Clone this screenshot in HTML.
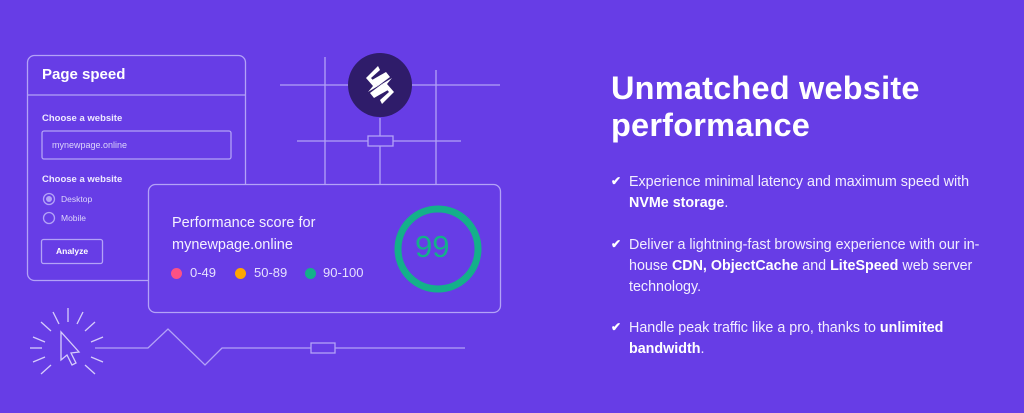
<!DOCTYPE html>
<html><head><meta charset="utf-8"><style>
html,body{margin:0;padding:0;width:1024px;height:413px;overflow:hidden;background:#673de6;font-family:"Liberation Sans",sans-serif;}
svg{position:absolute;left:0;top:0}
.t{position:absolute;color:#fff}
h1{position:absolute;left:611px;top:70px;margin:0;font-size:32.5px;line-height:37px;font-weight:bold;color:#fff;letter-spacing:0.2px}
.b{position:absolute;left:629px;width:380px;font-size:14.3px;line-height:21px;color:#f2eeff}
.b b{color:#fff}
.ck{position:absolute;left:611px;font-size:12px;color:#fff;font-weight:bold}
.dot{position:absolute;width:11px;height:11px;border-radius:50%}
</style></head><body>
<svg width="1024" height="413" viewBox="0 0 1024 413" fill="none" stroke="#b3a2f7" stroke-width="1.3">
<line x1="280" y1="85" x2="500" y2="85"/>
<line x1="297" y1="141" x2="461" y2="141"/>
<line x1="325" y1="57" x2="325" y2="184"/>
<line x1="380" y1="118" x2="380" y2="184"/>
<line x1="436" y1="70" x2="436" y2="184"/>
<rect x="368" y="136" width="25" height="10" fill="#673de6"/>
<circle cx="380" cy="85" r="32" fill="#2f1c6a" stroke="none"/>
<g fill="#fff" stroke="none">
<path d="M378 66 L366 78 L373 86 L368 92 L378 86 L371 78 L380 70 Z"/>
<path d="M382 104 L394 92 L387 84 L392 78 L382 84 L389 92 L380 100 Z"/>
<path d="M372 80 L386 72 L390 77 L378 86 Z"/>
<path d="M388 90 L374 98 L370 93 L382 84 Z"/>
</g>
<rect x="27.5" y="55.5" width="218" height="225" rx="7" fill="#673de6"/>
<line x1="28" y1="95" x2="245" y2="95"/>
<rect x="42" y="131" width="189" height="28" rx="2"/>
<circle cx="49" cy="199" r="5.5"/><circle cx="49" cy="199" r="3" fill="#b3a2f7" stroke="none"/>
<circle cx="49" cy="218" r="5.5"/>
<rect x="41.5" y="239.5" width="61" height="24" rx="2"/>
<rect x="148.5" y="184.5" width="352" height="128" rx="7" fill="#673de6"/>
<circle cx="438" cy="249" r="40" stroke="#14b08a" stroke-width="7"/>
<polyline points="95,348 148,348 168,329 205,365 222,348 465,348"/>
<rect x="311" y="343" width="24" height="10" fill="#673de6"/>
<g stroke="#d6ccfb">
<line x1="68" y1="308" x2="68" y2="322"/><line x1="53" y1="312" x2="59" y2="324"/><line x1="83" y1="312" x2="77" y2="324"/>
<line x1="41" y1="322" x2="51" y2="331"/><line x1="95" y1="322" x2="85" y2="331"/>
<line x1="33" y1="337" x2="45" y2="342"/><line x1="103" y1="337" x2="91" y2="342"/>
<line x1="30" y1="348" x2="42" y2="348"/>
<line x1="33" y1="362" x2="45" y2="357"/><line x1="103" y1="362" x2="91" y2="357"/>
<line x1="41" y1="374" x2="51" y2="365"/><line x1="95" y1="374" x2="85" y2="365"/>
<path d="M61 332 L61 360 L67 355 L72 365 L76 363 L71 353 L79 352 Z" fill="#673de6"/>
</g>
</svg>
<div class="t" style="left:42px;top:66px;font-size:15px;font-weight:bold">Page speed</div>
<div class="t" style="left:42px;top:113px;font-size:9.5px;font-weight:bold;color:#eeeaff">Choose a website</div>
<div class="t" style="left:52px;top:140px;font-size:9px;color:#ddd6fb">mynewpage.online</div>
<div class="t" style="left:42px;top:174px;font-size:9.5px;font-weight:bold;color:#eeeaff">Choose a website</div>
<div class="t" style="left:61px;top:194px;font-size:8.5px;color:#ddd6fb">Desktop</div>
<div class="t" style="left:61px;top:213px;font-size:8.5px;color:#ddd6fb">Mobile</div>
<div class="t" style="left:56px;top:246px;font-size:8.5px;font-weight:bold">Analyze</div>
<div class="t" style="left:172px;top:212px;font-size:14.5px;line-height:22px;color:#f4f0ff">Performance score for<br>mynewpage.online</div>
<div class="dot" style="left:171px;top:268px;background:#fc5185"></div>
<div class="t" style="left:190px;top:265px;font-size:13px;color:#e6e0ff">0-49</div>
<div class="dot" style="left:235px;top:268px;background:#ffa502"></div>
<div class="t" style="left:254px;top:265px;font-size:13px;color:#e6e0ff">50-89</div>
<div class="dot" style="left:305px;top:268px;background:#14b08a"></div>
<div class="t" style="left:323px;top:265px;font-size:13px;color:#e6e0ff">90-100</div>
<div class="t" style="left:415px;top:229px;font-size:31px;color:#14b08a">99</div>
<h1>Unmatched website<br>performance</h1>
<div class="ck" style="top:174px">✔</div>
<div class="b" style="top:172px">Experience minimal latency and maximum speed with <b>NVMe storage</b>.</div>
<div class="ck" style="top:237px">✔</div>
<div class="b" style="top:235px">Deliver a lightning-fast browsing experience with our in-house <b>CDN, ObjectCache</b> and <b>LiteSpeed</b> web server technology.</div>
<div class="ck" style="top:320px">✔</div>
<div class="b" style="top:318px">Handle peak traffic like a pro, thanks to <b>unlimited bandwidth</b>.</div>
</body></html>
